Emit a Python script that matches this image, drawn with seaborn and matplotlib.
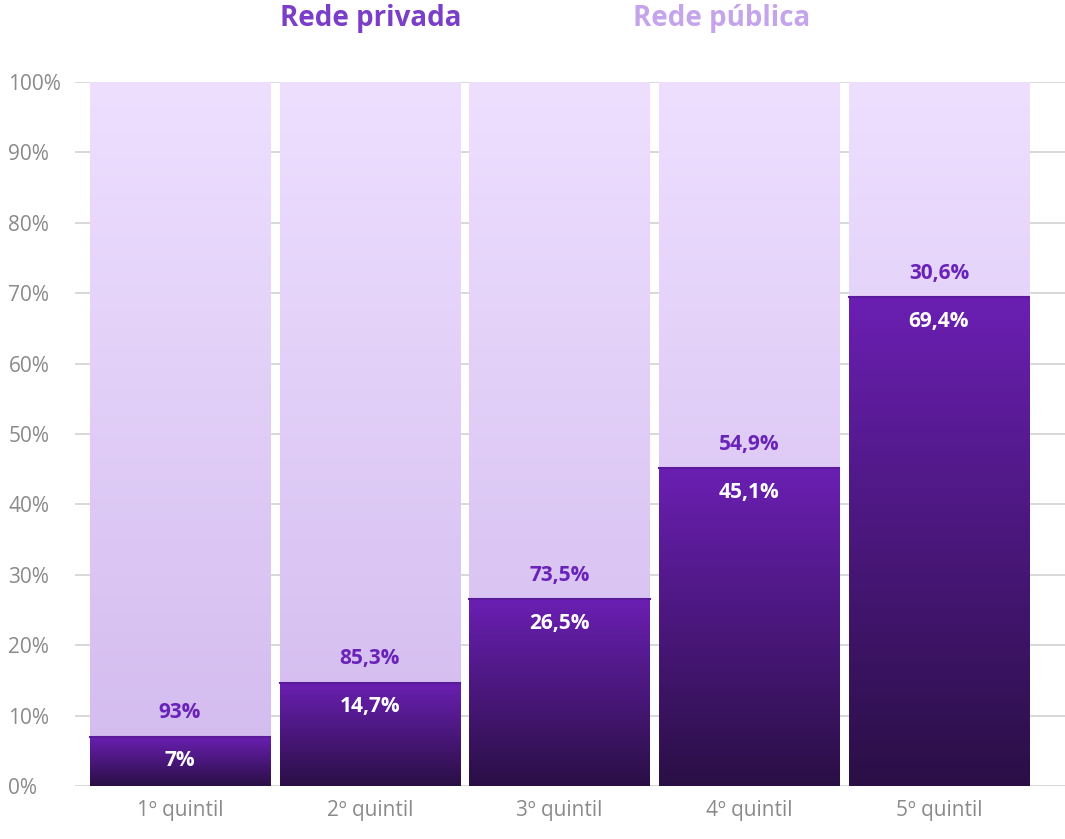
import numpy as np
import pandas as pd
import matplotlib.pyplot as plt
import matplotlib.colors as mcolors
import seaborn as sns

categories = ["1º quintil", "2º quintil", "3º quintil", "4º quintil", "5º quintil"]
privada = [7, 14.7, 26.5, 45.1, 69.4]
publica = [93, 85.3, 73.5, 54.9, 30.6]
priv_labels = ["7%", "14,7%", "26,5%", "45,1%", "69,4%"]
pub_labels = ["93%", "85,3%", "73,5%", "54,9%", "30,6%"]

df = pd.DataFrame({"cat": categories, "total": [100] * 5, "priv": privada})

plt.rcParams["font.family"] = "Open Sans"
fig = plt.figure(figsize=(10.65, 8.39), dpi=100)
ax = fig.add_axes([75 / 1065, 53 / 839, 990 / 1065, 704 / 839])

sns.barplot(data=df, x="cat", y="total", color="#e0ccf5", width=0.95, ax=ax, zorder=2)
sns.barplot(data=df, x="cat", y="priv", color="#4a1a80", width=0.95, ax=ax, zorder=3)

pub_cmap = mcolors.LinearSegmentedColormap.from_list("pub", ["#d2baee", "#eedfff"])
priv_cmap = mcolors.LinearSegmentedColormap.from_list("priv", ["#2a0f45", "#6a1fb2"])
grad = np.linspace(0, 1, 256).reshape(-1, 1)
for i, p in enumerate(ax.patches):
    x0, y0, w, h = p.get_x(), p.get_y(), p.get_width(), p.get_height()
    cmap = pub_cmap if i < 5 else priv_cmap
    im = ax.imshow(grad, cmap=cmap, origin="lower", aspect="auto",
                   extent=(x0, x0 + w, y0, y0 + h), zorder=p.get_zorder() + 0.1)
    im.set_clip_path(p)
    if i >= 5:
        ax.plot([x0, x0 + w], [h, h], color="#5a1a9a", lw=1.5, zorder=4)

for i in range(5):
    ax.text(i, privada[i] - 3.4, priv_labels[i], ha="center", va="center",
            color="white", fontsize=15, fontweight="bold", zorder=5)
    ax.text(i, privada[i] + 3.4, pub_labels[i], ha="center", va="center",
            color="#6a23b8", fontsize=15, fontweight="bold", zorder=5)

ax.set_xlim(-0.553, 4.664)
ax.set_ylim(0, 100)
ax.set_yticks(range(0, 101, 10))
ax.set_yticklabels([f"{v}%" for v in range(0, 101, 10)])
ax.set_xlabel("")
ax.set_ylabel("")
ax.grid(axis="y", color="#d2d2d2", lw=1.2, zorder=1)
ax.grid(axis="x", visible=False)
ax.set_axisbelow(True)
for s in ax.spines.values():
    s.set_visible(False)
ax.tick_params(axis="y", length=0, labelsize=15, labelcolor="#8a8a8a", pad=-2)
ax.tick_params(axis="x", length=0, labelsize=15, labelcolor="#8a8a8a", pad=10)
for lab in ax.get_yticklabels():
    lab.set_horizontalalignment("left")
    lab.set_x(-0.07)

fig.text(0.232, 0.978, "●", color="#7030c0", fontsize=28, va="center", ha="center")
fig.text(0.263, 0.978, "Rede privada", color="#7a3ec8", fontsize=20, fontweight="bold", va="center")
fig.text(0.565, 0.978, "●", color="#e2d0f6", fontsize=28, va="center", ha="center")
fig.text(0.594, 0.978, "Rede pública", color="#c4a4ea", fontsize=20, fontweight="bold", va="center")

fig.savefig("out.png", dpi=100)
